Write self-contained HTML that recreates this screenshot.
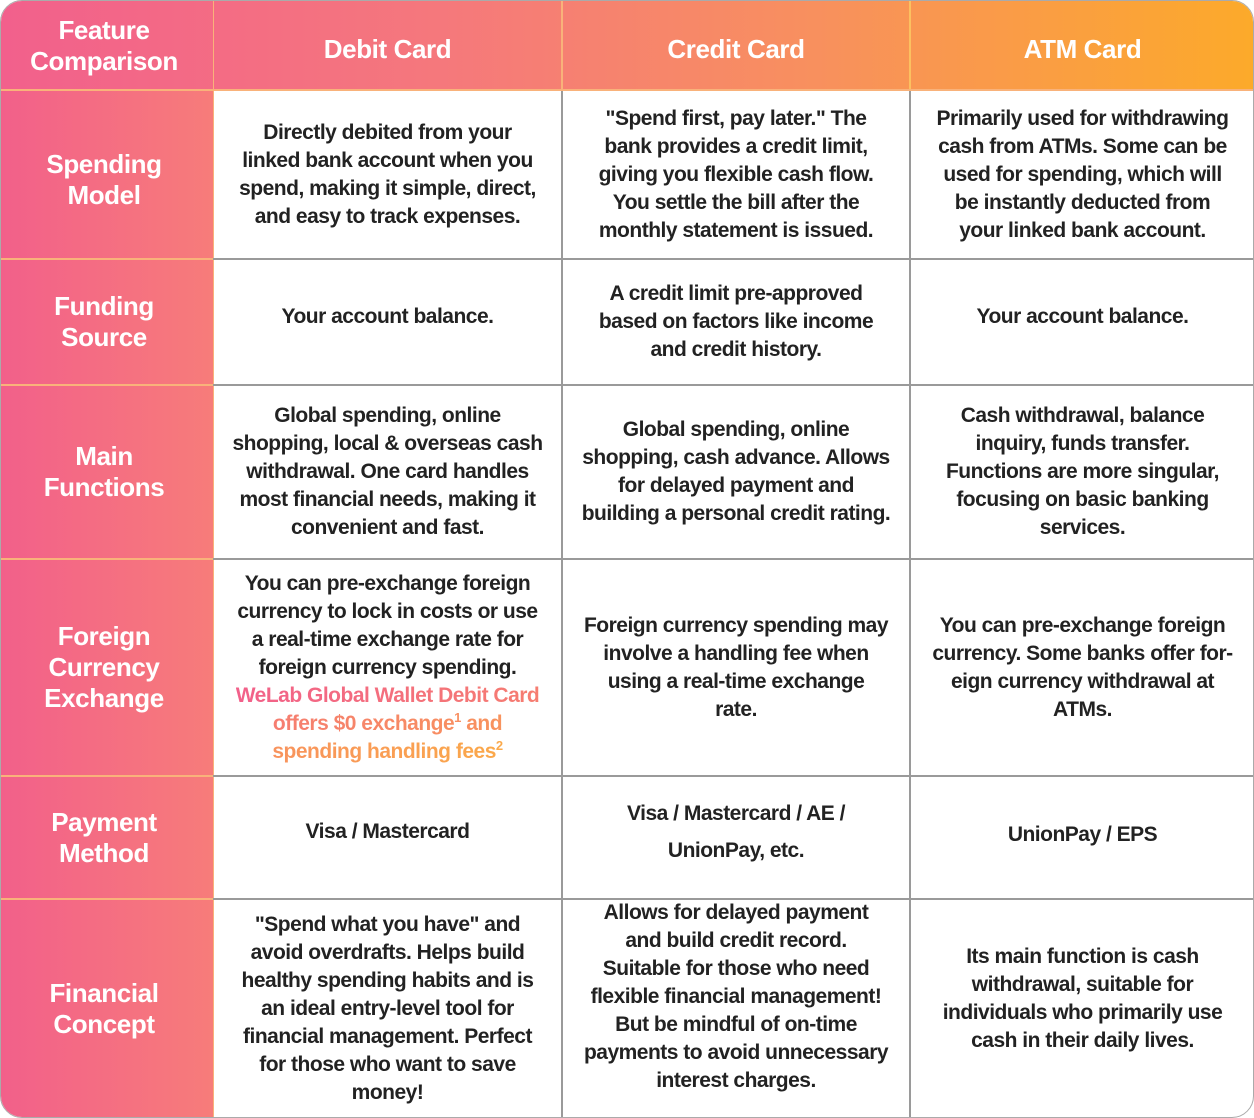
<!DOCTYPE html>
<html><head><meta charset="utf-8"><style>
body{margin:0;width:1254px;height:1118px;background:#fff;overflow:hidden;font-family:"Liberation Sans",sans-serif}
.w{position:absolute;left:0;top:0;width:1252px;height:1116px;border:1px solid #aaa;border-radius:22px;overflow:hidden}
.hdr{position:absolute;left:0;top:0;width:1254px;height:89px;background:linear-gradient(90deg,#f2608c 0%,#f5787c 35%,#f8905e 65%,#fcaa2a 100%)}
.lc{position:absolute;left:0;top:89px;width:212px;height:1030px;background:linear-gradient(90deg,#f2608a,#f77c7a)}
.c{position:absolute;display:flex;align-items:center;justify-content:center;text-align:center;box-sizing:border-box}
.h{color:#fff;font-weight:bold;font-size:26px;line-height:31px;letter-spacing:-0.4px}
.t{color:#222;font-weight:bold;font-size:21px;line-height:28px;letter-spacing:-0.5px}
.vl{position:absolute;top:0;width:2px;height:1118px;background:#9a9a9a}
.hl{position:absolute;left:212px;width:1042px;height:2px;background:#9a9a9a}
.ol{position:absolute;left:0;width:212px;height:2px;background:#f9b27a}
.g{background:linear-gradient(90deg,#f2608a,#fba94a);-webkit-background-clip:text;background-clip:text;color:transparent}
sup{font-size:13px;line-height:0;vertical-align:8px}
</style></head><body><div class="w">
<div class="hdr"></div><div class="lc"></div>
<div class="vl" style="left:560px"></div><div class="vl" style="left:908px"></div>
<div class="vl" style="left:212px;width:1px;background:#f9b27a"></div>
<div class="vl" style="left:560px;height:89px;background:#f9b27a"></div><div class="vl" style="left:908px;height:89px;background:#fcc060"></div>
<div class="ol" style="top:88px;width:1254px"></div>
<div class="hl" style="top:257px"></div><div class="hl" style="top:383px"></div><div class="hl" style="top:557px"></div><div class="hl" style="top:774px"></div><div class="hl" style="top:897px"></div>
<div class="ol" style="top:257px"></div><div class="ol" style="top:383px"></div><div class="ol" style="top:557px"></div><div class="ol" style="top:774px"></div><div class="ol" style="top:897px"></div>

<div class="c h" style="left:0;top:0;width:206px;height:89px">Feature<br>Comparison</div>
<div class="c h" style="left:212px;top:0;width:349px;height:97px">Debit Card</div>
<div class="c h" style="left:561px;top:0;width:348px;height:97px">Credit Card</div>
<div class="c h" style="left:909px;top:0;width:345px;height:97px">ATM Card</div>

<div class="c h" style="left:0;top:89px;width:206px;height:180px">Spending<br>Model</div>
<div class="c h" style="left:0;top:258px;width:206px;height:126px">Funding<br>Source</div>
<div class="c h" style="left:0;top:384px;width:206px;height:174px">Main<br>Functions</div>
<div class="c h" style="left:0;top:558px;width:206px;height:217px">Foreign<br>Currency<br>Exchange</div>
<div class="c h" style="left:0;top:775px;width:206px;height:123px">Payment<br>Method</div>
<div class="c h" style="left:0;top:898px;width:206px;height:220px">Financial<br>Concept</div>

<div class="c t" style="left:212px;top:89px;width:349px;height:169px">Directly debited from your<br>linked bank account when you<br>spend, making it simple, direct,<br>and easy to track expenses.</div>
<div class="c t" style="left:561px;top:89px;width:348px;height:169px">"Spend first, pay later." The<br>bank provides a credit limit,<br>giving you flexible cash flow.<br>You settle the bill after the<br>monthly statement is issued.</div>
<div class="c t" style="left:909px;top:89px;width:345px;height:169px">Primarily used for withdrawing<br>cash from ATMs. Some can be<br>used for spending, which will<br>be instantly deducted from<br>your linked bank account.</div>

<div class="c t" style="left:212px;top:258px;width:349px;height:116px">Your account balance.</div>
<div class="c t" style="left:561px;top:258px;width:348px;height:126px">A credit limit pre-approved<br>based on factors like income<br>and credit history.</div>
<div class="c t" style="left:909px;top:258px;width:345px;height:116px">Your account balance.</div>

<div class="c t" style="left:212px;top:384px;width:349px;height:174px">Global spending, online<br>shopping, local &amp; overseas cash<br>withdrawal. One card handles<br>most financial needs, making it<br>convenient and fast.</div>
<div class="c t" style="left:561px;top:384px;width:348px;height:174px">Global spending, online<br>shopping, cash advance. Allows<br>for delayed payment and<br>building a personal credit rating.</div>
<div class="c t" style="left:909px;top:384px;width:345px;height:174px">Cash withdrawal, balance<br>inquiry, funds transfer.<br>Functions are more singular,<br>focusing on basic banking<br>services.</div>

<div class="c t" style="left:212px;top:558px;width:349px;height:217px"><div>You can pre-exchange foreign<br>currency to lock in costs or use<br>a real-time exchange rate for<br>foreign currency spending.<br><span class="g">WeLab Global Wallet Debit Card<br>offers $0 exchange<sup>1</sup> and<br>spending handling fees<sup>2</sup></span></div></div>
<div class="c t" style="left:561px;top:558px;width:348px;height:217px">Foreign currency spending may<br>involve a handling fee when<br>using a real-time exchange<br>rate.</div>
<div class="c t" style="left:909px;top:558px;width:345px;height:217px">You can pre-exchange foreign<br>currency. Some banks offer for-<br>eign currency withdrawal at<br>ATMs.</div>

<div class="c t" style="left:212px;top:775px;width:349px;height:112px">Visa / Mastercard</div>
<div class="c t" style="left:561px;top:775px;width:348px;height:112px;line-height:37px">Visa / Mastercard / AE /<br>UnionPay, etc.</div>
<div class="c t" style="left:909px;top:775px;width:345px;height:118px">UnionPay / EPS</div>

<div class="c t" style="left:212px;top:898px;width:349px;height:220px">"Spend what you have" and<br>avoid overdrafts. Helps build<br>healthy spending habits and is<br>an ideal entry-level tool for<br>financial management. Perfect<br>for those who want to save<br>money!</div>
<div class="c t" style="left:561px;top:898px;width:348px;height:196px">Allows for delayed payment<br>and build credit record.<br>Suitable for those who need<br>flexible financial management!<br>But be mindful of on-time<br>payments to avoid unnecessary<br>interest charges.</div>
<div class="c t" style="left:909px;top:898px;width:345px;height:200px">Its main function is cash<br>withdrawal, suitable for<br>individuals who primarily use<br>cash in their daily lives.</div>
</div></body></html>
